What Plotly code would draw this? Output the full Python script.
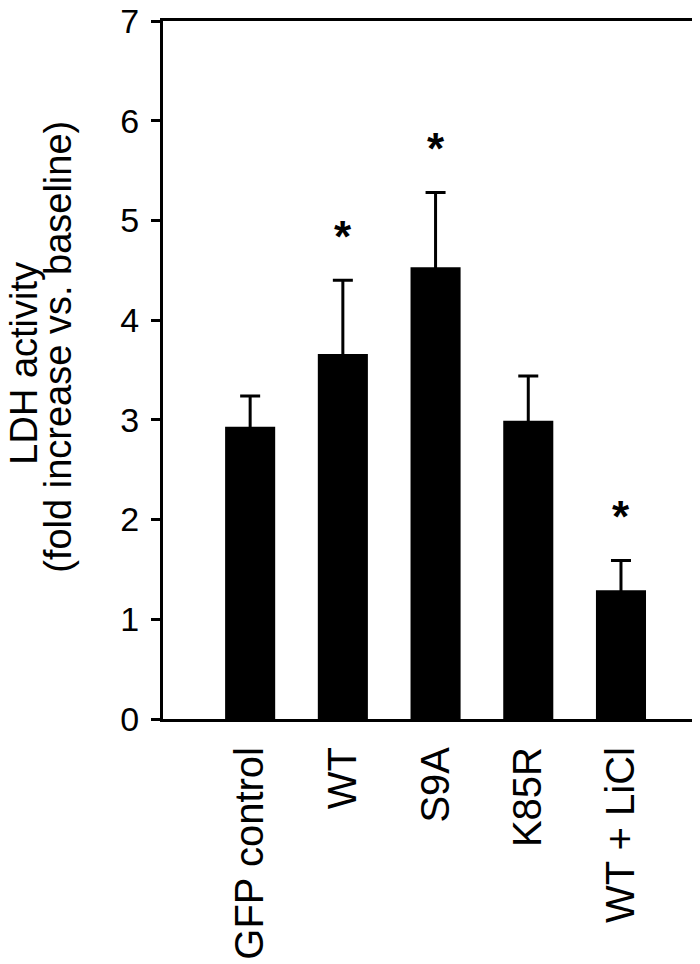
import plotly.graph_objects as go

# Values
groups = ["GFP control", "WT", "S9A", "K85R", "WT + LiCl"]
ldh_fold = [2.93, 3.66, 4.53, 2.99, 1.29]
ldh_err = [0.31, 0.74, 0.75, 0.45, 0.30]
significant = [False, True, True, False, True]
y_ticks = [0, 1, 2, 3, 4, 5, 6, 7]

FONT = "Arial, Liberation Sans, sans-serif"

fig = go.Figure()

# symmetric bars: the lower half sits inside the black bar and is not seen
fig.add_trace(
    go.Bar(
        x=groups,
        y=ldh_fold,
        width=0.54,
        marker=dict(color="black", line=dict(width=0)),
        error_y=dict(
            type="data",
            array=ldh_err,
            color="black",
            thickness=3,
            width=10,
        ),
        showlegend=False,
    )
)

# significance stars above the error bars
for g, v, e, s in zip(groups, ldh_fold, ldh_err, significant):
    if s:
        fig.add_annotation(
            x=g, y=v + e, xref="x", yref="y",
            text="<b>*</b>", showarrow=False,
            yanchor="middle", yshift=44,
            font=dict(family=FONT, size=44, color="black"),
        )

# two-line y title, drawn as two rotated annotations to keep the tight spacing
fig.add_annotation(
    x=-0.261, y=0.51, xref="paper", yref="paper",
    text="LDH activity", textangle=-90, showarrow=False,
    xanchor="center", yanchor="middle",
    font=dict(family=FONT, size=38, color="black"),
)
fig.add_annotation(
    x=-0.197, y=0.533, xref="paper", yref="paper",
    text="(fold increase vs. baseline)", textangle=-90, showarrow=False,
    xanchor="center", yanchor="middle",
    font=dict(family=FONT, size=38, color="black"),
)

# page body has an 8px margin, so the figure is 8px smaller than the window
fig.update_layout(
    width=692,
    height=956,
    margin=dict(l=155, r=3, t=13, b=245),
    paper_bgcolor="white",
    plot_bgcolor="white",
    font=dict(family=FONT, color="black"),
    xaxis=dict(
        range=[-0.94, 4.82],
        automargin=False,
        showgrid=False,
        showline=True,
        linecolor="black",
        linewidth=3,
        mirror=True,
        ticks="",
        tickangle=-90,
        tickfont=dict(family=FONT, size=40, color="black"),
        ticklabelstandoff=9,
    ),
    yaxis=dict(
        range=[0, 7],
        automargin=False,
        tickvals=y_ticks,
        showgrid=False,
        zeroline=False,
        showline=True,
        linecolor="black",
        linewidth=3,
        mirror=True,
        ticks="outside",
        ticklen=9,
        tickwidth=3,
        tickcolor="black",
        tickfont=dict(family=FONT, size=34, color="black"),
        ticklabelstandoff=5,
        ticklabeloverflow="allow",
    ),
)

fig.write_html("out.html")
